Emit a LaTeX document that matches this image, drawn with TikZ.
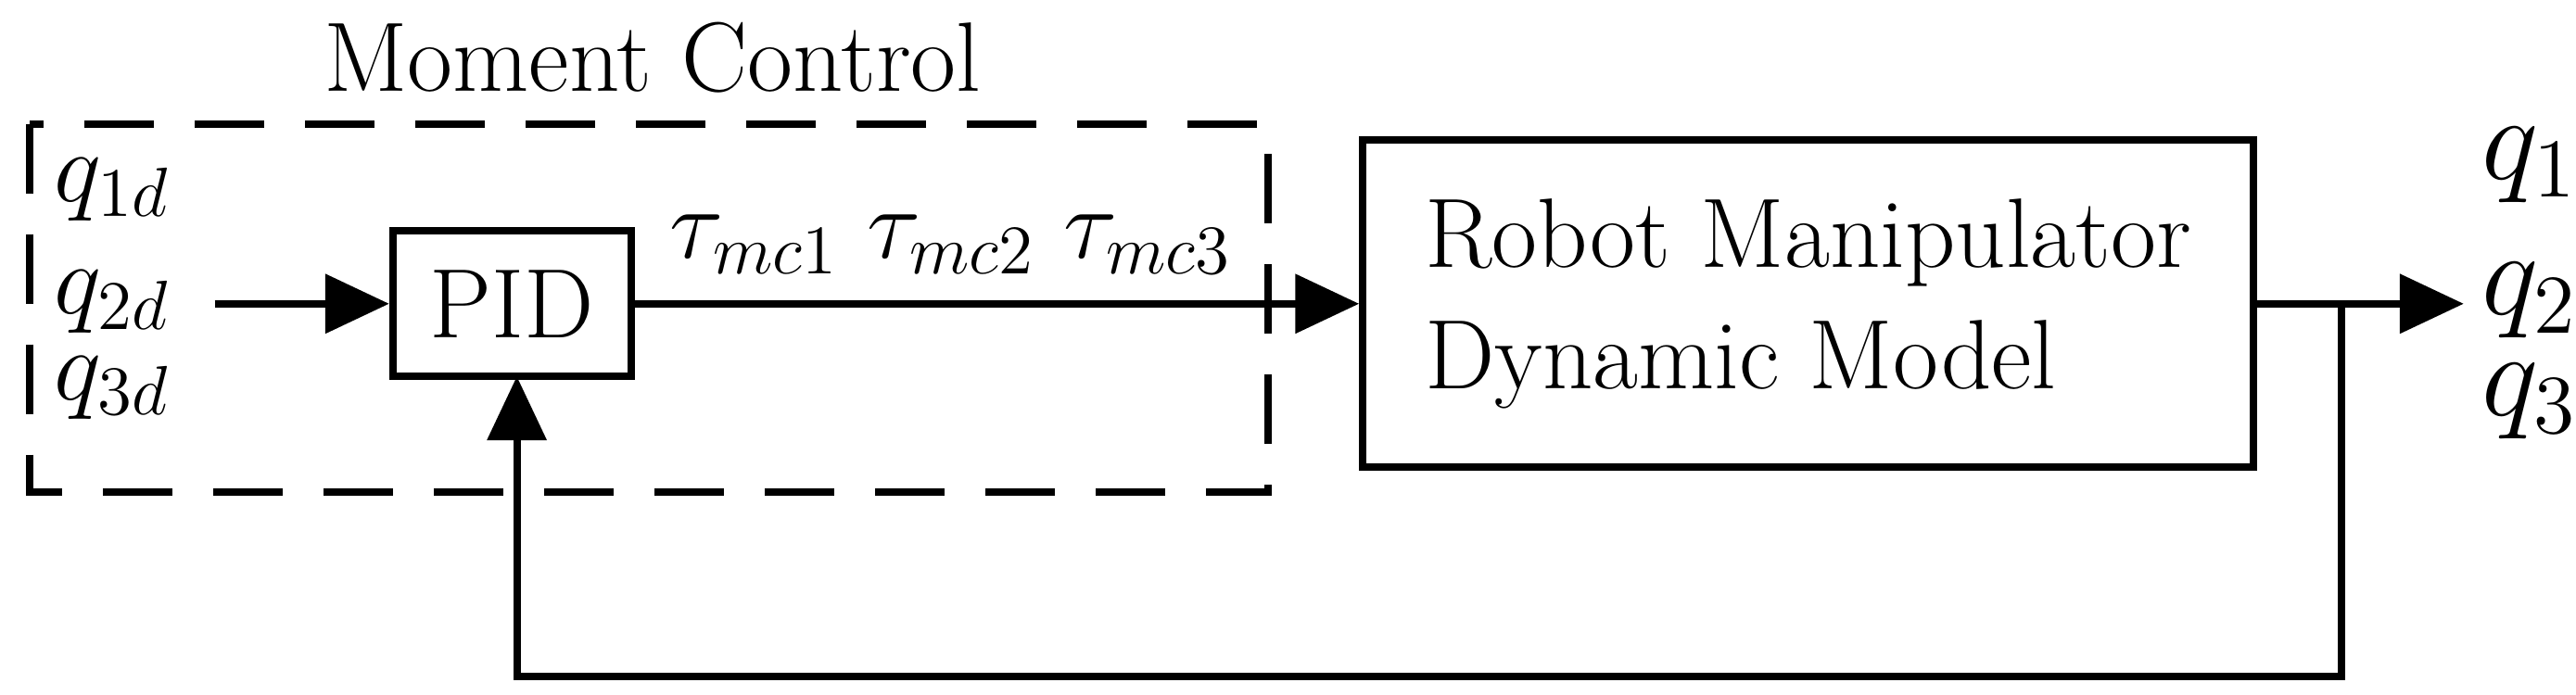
\documentclass[tikz,border=0pt]{standalone}
\usetikzlibrary{arrows.meta}
\begin{document}
\begin{tikzpicture}[x=0.01cm,y=-0.01cm,
  every node/.style={font=\fontsize{17}{21}\selectfont},
  blk/.style={draw,line width=1.3pt,inner sep=0pt},
  ln/.style={line width=1.3pt},
  arr/.style={ln,-{Triangle[length=11pt,width=10pt]}}]
\useasboundingbox (0,0) rectangle (1560,421);
\node (title) at (395,35) {Moment Control};
\draw[ln,dash pattern=on 12pt off 7pt] (18,75) rectangle (768,298);
\node (q1d) at (68,115) {$q_{1d}$};
\node (q2d) at (68,183) {$q_{2d}$};
\node (q3d) at (68,235) {$q_{3d}$};
\node[blk,minimum width=1.44cm,minimum height=0.88cm] (pid) at (310,184) {PID};
\node[blk,minimum width=5.39cm,minimum height=1.98cm,align=left] (rob) at (1095,184) {Robot Manipulator\\Dynamic Model};
\coordinate (s) at (130,184);
\draw[arr] (s) -- (pid.west);
\draw[arr] (pid.east) -- (rob.west);
\node (tau) at (576,148) {$\tau_{mc1}\;\tau_{mc2}\;\tau_{mc3}$};
\coordinate (o) at (1492,184);
\coordinate (b) at (1418,184);
\draw[arr] (rob.east) -- (o);
\draw[arr] (b) -- (1418,410) -- (313,410) -- (313,228);
\node[font=\fontsize{20}{24}\selectfont] (q1) at (1532,100) {$q_1$};
\node[font=\fontsize{20}{24}\selectfont] (q2) at (1532,182) {$q_2$};
\node[font=\fontsize{20}{24}\selectfont] (q3) at (1532,243) {$q_3$};
\end{tikzpicture}
\end{document}
